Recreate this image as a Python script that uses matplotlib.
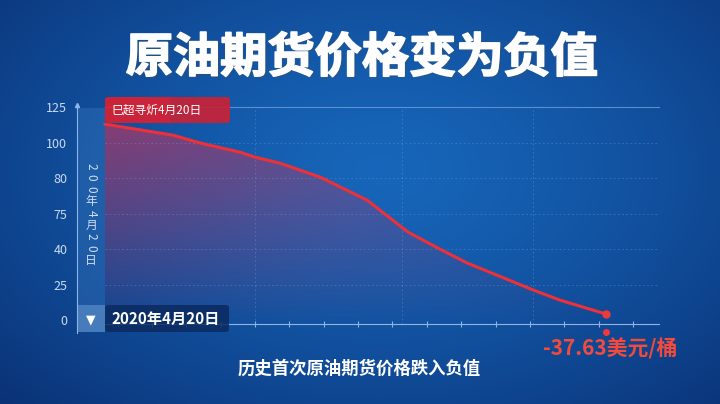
import numpy as np
import matplotlib
matplotlib.use("Agg")
import matplotlib.pyplot as plt
import matplotlib.patheffects as pe
from matplotlib.patches import Rectangle, FancyBboxPatch, Polygon

plt.rcParams['font.family'] = ['Noto Sans CJK SC', 'DejaVu Sans']

# data (x in tick steps, y in tick-row units as drawn on the chart)
x_pos = [-0.37, 1.61, 2.40, 3.56, 4.00, 4.73, 5.89, 7.26, 8.45, 9.38, 10.17, 12.09, 12.88, 14.22]
y_pos = [5.52, 5.21, 4.99, 4.73, 4.59, 4.42, 4.03, 3.38, 2.48, 2.00, 1.61, 0.85, 0.56, 0.17]
y_tick_labels = ['0', '25', '40', '75', '80', '100', '125']
x_ticks = list(range(0, 16))
final_price = '-37.63美元/桶'
title = '原油期货价格变为负值'
subtitle = '历史首次原油期货价格跌入负值'
start_label = '2020年4月20日'
top_label = '巳超寻炘4月20日'
side_label = '200年4月20日'

W, H = 720, 404
fig = plt.figure(figsize=(W / 100, H / 100), dpi=100)


def fx(px):
    return px / W


def fy(py):
    return 1 - py / H


# background gradient
bg = fig.add_axes([0, 0, 1, 1], zorder=-10)
yy, xx = np.mgrid[0:H, 0:W]
r = np.sqrt(((xx - 380) / 520) ** 2 + ((yy - 170) / 330) ** 2)
c_in = np.array([0.09, 0.40, 0.73])
c_out = np.array([0.04, 0.20, 0.47])
t = np.clip(r, 0, 1)[..., None] ** 1.3
img = c_in * (1 - t) + c_out * t
bg.imshow(img, extent=[0, 1, 0, 1], aspect='auto')
bg.axis('off')

ax = fig.add_axes([fx(77), fy(335), fx(665) - fx(77), fy(100) - fy(335)])
ax.set_facecolor('none')
ax.set_xlim(-1.18, 15.93)
ax.set_ylim(-0.42, 6.20)

# grid
for j in range(1, 6):
    ax.plot([-0.36, 15.75], [j, j], color='#6f9bd6', lw=0.6, ls=(0, (2, 3)), alpha=0.45)
ax.plot([-0.36, 15.75], [6, 6], color='#7aa6e0', lw=0.8, alpha=0.7)
for k in [4, 8.27, 12.1]:
    ax.plot([k, k], [-0.11, 6], color='#6f9bd6', lw=0.6, ls=(0, (2, 3)), alpha=0.45)

# spines
for s in ['top', 'right']:
    ax.spines[s].set_visible(False)
ax.spines['left'].set_color('#8fb4e6')
ax.spines['left'].set_bounds(-0.35, 6.05)
ax.spines['bottom'].set_color('#8fb4e6')
ax.spines['bottom'].set_position(('data', -0.11))
ax.spines['bottom'].set_bounds(-0.36, 15.75)
ax.set_xticks(x_ticks)
ax.set_xticklabels([])
ax.tick_params(axis='x', direction='inout', length=5, color='#8fb4e6', width=0.8)
ax.set_yticks(range(len(y_tick_labels)))
ax.set_yticklabels(y_tick_labels)
ax.tick_params(axis='y', length=0, pad=7, labelcolor='#c9d9f2', labelsize=9)
ax.plot([-1.18], [6.05], marker='^', ms=3, color='#8fb4e6', clip_on=False)

# gradient fill under the curve
gx = np.linspace(-0.37, 15.0, 300)
gy = np.linspace(-0.11, 6.0, 200)
GX, GY = np.meshgrid(gx, gy)
alpha = 0.62 * np.clip((GY + 0.11) / 5.6, 0, 1) ** 0.9 * np.clip(1 - (GX + 0.37) / 16, 0, 1) ** 0.6
fill_img = np.zeros((200, 300, 4))
fill_img[..., 0] = 0.80
fill_img[..., 1] = 0.20
fill_img[..., 2] = 0.36
fill_img[..., 3] = alpha
im = ax.imshow(fill_img, extent=[gx[0], gx[-1], gy[0], gy[-1]], origin='lower',
               aspect='auto', zorder=1)
poly = Polygon(list(zip(x_pos, y_pos)) + [(x_pos[-1], -0.11), (x_pos[0], -0.11)],
               closed=True, facecolor='none', edgecolor='none')
ax.add_patch(poly)
im.set_clip_path(poly)

ax.plot(x_pos, y_pos, color='#ee3038', lw=2.2, zorder=3, solid_capstyle='round',
        solid_joinstyle='round')
ax.plot(x_pos[-1], y_pos[-1], 'o', color='#ee3a3a', ms=5, zorder=4)
ax.plot(x_pos[-1], -0.34, 'o', color='#ee3a3a', ms=4, zorder=4, clip_on=False)

# decorative boxes (figure pixel coords)
def box(x0, y0, x1, y1, color, alpha=1.0, round_=False, z=5):
    if round_:
        p = FancyBboxPatch((fx(x0), fy(y1)), fx(x1) - fx(x0), fy(y0) - fy(y1),
                           boxstyle='round,pad=0,rounding_size=0.006',
                           transform=fig.transFigure, facecolor=color, alpha=alpha,
                           edgecolor='none', zorder=z)
    else:
        p = Rectangle((fx(x0), fy(y1)), fx(x1) - fx(x0), fy(y0) - fy(y1),
                      transform=fig.transFigure, facecolor=color, alpha=alpha,
                      edgecolor='none', zorder=z)
    fig.patches.append(p)


box(78, 108, 105, 305, '#3c7cc4', 0.35)
box(78, 305, 105, 332, '#5a8fcc', 0.75)
box(105, 305, 229, 332, '#0b2a60', 0.85, round_=True)
box(105, 97, 230, 123, '#e41e2c', 0.88, round_=True)
box(170, 97, 230, 123, '#9a2a48', 0.35, round_=True)

fig.text(fx(91), fy(320), '▼', color='white', ha='center', va='center', fontsize=9,
         family=['DejaVu Sans'], zorder=6)
fig.text(fx(112), fy(319), start_label, color='white', ha='left', va='center',
         fontsize=11, fontweight='bold', zorder=6)
fig.text(fx(111), fy(110), top_label, color='white', ha='left', va='center',
         fontsize=8.5, zorder=6)

for i, ch in enumerate(side_label):
    rot = -90 if ch.isdigit() else 0
    fig.text(fx(91), fy(166 + i * 11.8), ch, color='#d0def3', ha='center', va='center',
             fontsize=8.5, rotation=rot, zorder=6)

fig.text(fx(362), fy(58), title, color='white', ha='center', va='center',
         fontsize=34, fontweight='heavy', zorder=6,
         path_effects=[pe.withStroke(linewidth=1.2, foreground='white'),
                       pe.SimplePatchShadow(offset=(1.5, -1.5), alpha=0.3)] )
fig.texts[-1].set_path_effects([pe.SimplePatchShadow(offset=(1.5, -1.5), alpha=0.3),
                                pe.withStroke(linewidth=1.2, foreground='white')])
fig.text(fx(359), fy(369), subtitle, color='white', ha='center', va='center',
         fontsize=12.5, fontweight='bold', zorder=6)
fig.text(fx(610), fy(349), final_price, color='#f24a3c', ha='center', va='center',
         fontsize=15, fontweight='bold', zorder=6)

fig.savefig('out.png', dpi=100)
